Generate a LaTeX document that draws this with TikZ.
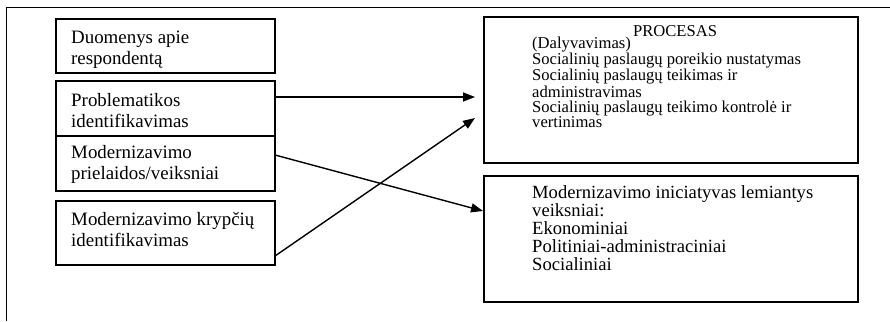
\documentclass[tikz,border=0pt]{standalone}
\usepackage{fontspec}
\setmainfont{Liberation Serif}
\usetikzlibrary{arrows.meta}
\begin{document}
\begin{tikzpicture}[x=1pt,y=-1pt,
  box/.style={draw,line width=1.1pt,inner sep=0pt,outer sep=0pt},
  % multi-line texts are placed by the baseline of their last line
  bigtxt/.style={anchor=base west,align=left,inner sep=0pt,
    font=\fontsize{18.9}{20.5}\selectfont},
  smalltxt/.style={anchor=base west,align=left,inner sep=0pt,
    font=\fontsize{16.6}{15}\selectfont},
  link/.style={line width=1.4pt,-{Triangle[length=12pt,width=9pt]}}]
\useasboundingbox (0,0) rectangle (890,321);
% outer frame
\draw[line width=0.9pt] (6,321) -- (6,7) -- (890,7);
% left column boxes
\node[box] (b1) at (165.5,46) [minimum width=219pt,minimum height=54pt] {};
\node[box] (b2) at (165.5,108.5) [minimum width=219pt,minimum height=55pt] {};
\node[box] (b3) at (165.5,163.5) [minimum width=219pt,minimum height=55pt] {};
\node[box] (b4) at (165.5,233) [minimum width=219pt,minimum height=64pt] {};
% right column boxes
\node[box] (p) at (671,90) [minimum width=374pt,minimum height=146pt] {};
\node[box] (m) at (671,239) [minimum width=374pt,minimum height=126pt] {};
% texts
\node[bigtxt] (t1) at (71,64) {Duomenys apie\\respondentą};
\node[bigtxt] (t2) at (71,127) {Problematikos\\identifikavimas};
\node[bigtxt] (t3) at (71,179) {Modernizavimo\\prielaidos/veiksniai};
\node[bigtxt] (t4) at (71,246) {Modernizavimo krypčių\\identifikavimas};
\node[smalltxt,anchor=base] (tp) at (675,37) {PROCESAS};
\node[smalltxt] (tp2) at (532,127) {(Dalyvavimas)\\Socialinių paslaugų poreikio nustatymas\\Socialinių paslaugų teikimas ir\\administravimas\\Socialinių paslaugų teikimo kontrolė ir\\vertinimas};
\node[bigtxt,font=\fontsize{18.6}{18}\selectfont] (tm) at (532,270) {Modernizavimo iniciatyvas lemiantys\\veiksniai:\\Ekonominiai\\Politiniai-administraciniai\\Socialiniai};
% connectors
\draw[link] ([yshift=11.5pt]b2.east) -- ([xshift=-9pt,yshift=-7pt]p.west);
\draw[link] ([yshift=8.5pt]b3.east) -- ([xshift=-1pt,yshift=28pt]m.west);
\draw[link] ([yshift=-23pt]b4.east) -- ([xshift=-9pt,yshift=-28pt]p.west);
\end{tikzpicture}
\end{document}
